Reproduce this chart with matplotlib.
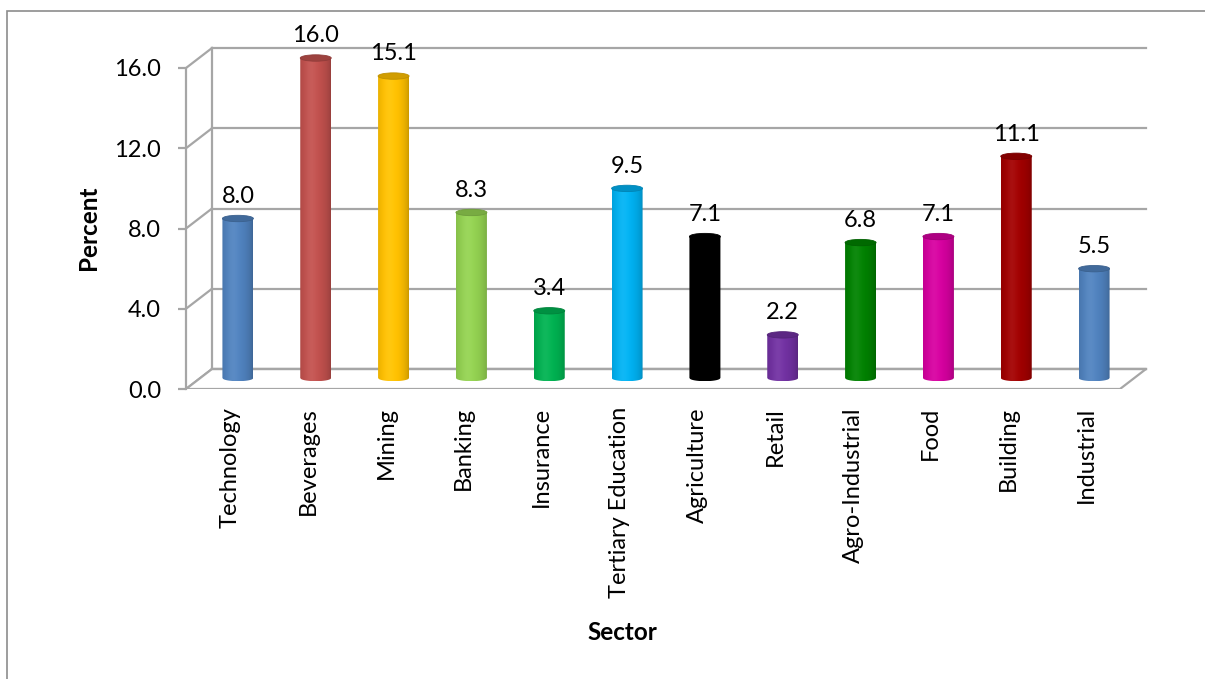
import numpy as np
import matplotlib
matplotlib.use("Agg")
import matplotlib.pyplot as plt
from matplotlib.patches import Polygon, Ellipse, Rectangle
from matplotlib.lines import Line2D
from matplotlib.colors import to_rgb

plt.rcParams['font.family'] = ['Lato', 'DejaVu Sans']

sectors = ["Technology", "Beverages", "Mining", "Banking", "Insurance",
           "Tertiary Education", "Agriculture", "Retail", "Agro-Industrial",
           "Food", "Building", "Industrial"]
percent = [8.0, 16.0, 15.1, 8.3, 3.4, 9.5, 7.1, 2.2, 6.8, 7.1, 11.1, 5.5]
colors = ["#4F81BD", "#C0504D", "#FFC000", "#92D050", "#00B050", "#00B0F0",
          "#000000", "#7030A0", "#008000", "#D4009E", "#A00000", "#4F81BD"]
yticks = [0, 4, 8, 12, 16]

W, H = 1205, 679
fig = plt.figure(figsize=(W / 100, H / 100), dpi=100)

# pixel geometry of the front plane
px_left, px_right = 186, 1120
py0, py16 = 389, 68
ppu_x = (px_right - px_left) / 12.0
ppu_y = (py0 - py16) / 16.0
xmin, xmax = -0.5, 11.9
ymin, ymax = 0.0, 18.0
ax_left = px_left / W
ax_w = (xmax - xmin) * ppu_x / W
ax_bottom = (H - py0) / H
ax_h = (ymax - ymin) * ppu_y / H
ax = fig.add_axes([ax_left, ax_bottom, ax_w, ax_h])

# depth offsets (data units)
dx = 26 / ppu_x
dy = 20 / ppu_y
gray = "#A6A6A6"
lw = 1.6

# back wall gridlines and side-wall diagonals
for v in yticks:
    ax.add_line(Line2D([-0.5 + dx, 11.5 + dx], [v + dy, v + dy], color=gray, lw=lw, zorder=1))
    ax.add_line(Line2D([-0.5, -0.5 + dx], [v, v + dy], color=gray, lw=lw, zorder=1))
ax.add_line(Line2D([-0.5 + dx, -0.5 + dx], [dy, 16 + dy], color=gray, lw=lw, zorder=1))

# floor
floor = Polygon([(-0.5, 0), (11.5, 0), (11.5 + dx, dy), (-0.5 + dx, dy)],
                closed=True, facecolor="white", edgecolor=gray, lw=lw, zorder=2)
ax.add_patch(floor)
ax.add_line(Line2D([-0.5 + dx, 11.5 + dx], [dy, dy], color=gray, lw=lw, zorder=2.1))
ax.add_line(Line2D([-0.5, 11.5], [-0.12, -0.12], color=gray, lw=lw, zorder=2.1))

# cylinders
bw = 31 / ppu_x
eh = 3.2 / ppu_y
t = np.linspace(-1, 1, 80)
light = 0.78 + 0.24 * np.clip(np.cos(np.pi / 2 * (t + 0.15) / 1.15), 0, 1) ** 0.6
hl = 0.06 * np.exp(-((t + 0.3) / 0.35) ** 2)
for i, (v, c) in enumerate(zip(percent, colors)):
    base = np.array(to_rgb(c))
    img = base[None, :] * light[:, None]
    img = img + (1 - base[None, :]) * hl[:, None] * (base.sum() > 0)
    img = np.clip(img, 0, 1)[None, :, :]
    xc = i + dx / 2
    yb = dy / 2 + 0.05
    yt = v + dy / 2
    x0, x1 = xc - bw / 2, xc + bw / 2
    tt = np.linspace(-1, 1, 40)
    bottom = [(xc + tv * bw / 2, yb - eh * np.sqrt(1 - tv ** 2)) for tv in tt]
    verts = [(x0, yt)] + bottom + [(x1, yt)]
    clip = Polygon(verts, closed=True, transform=ax.transData)
    im = ax.imshow(img, extent=[x0, x1, yb - eh, yt], aspect='auto',
                   interpolation='bilinear', zorder=3)
    im.set_clip_path(clip)
    top = Ellipse((xc, yt), bw, 2 * eh, facecolor=base * 0.82,
                  edgecolor=base * 0.75, lw=0.6, zorder=4)
    ax.add_patch(top)
    ax.text(xc, yt + 1.1, f"{v:.1f}", ha='center', va='center',
            fontsize=17, color='black', zorder=5)

ax.set_xlim(xmin, xmax)
ax.set_ylim(ymin, ymax)
for s in ['top', 'right', 'bottom']:
    ax.spines[s].set_visible(False)
ax.spines['left'].set_bounds(0, 16)
ax.spines['left'].set_color(gray)
ax.spines['left'].set_linewidth(lw)
ax.spines['left'].set_zorder(2.2)
ax.set_yticks(yticks)
ax.set_yticklabels([f"{v:.1f}" for v in yticks], fontsize=17)
ax.tick_params(axis='y', direction='out', length=6, width=lw, color=gray, pad=12)
ax.set_xticks(np.arange(len(sectors)) + 0.07)
ax.set_xticklabels(sectors, rotation=90, fontsize=17, va='top', ha='center')
ax.tick_params(axis='x', length=0, pad=13)
ax.set_facecolor('none')

fig.text(88 / W, 1 - 228 / H, "Percent", rotation=90, ha='center', va='center',
         fontsize=17.5, fontweight='bold')
fig.text(622 / W, 1 - 632 / H, "Sector", ha='center', va='center',
         fontsize=17.5, fontweight='bold')

# outer frame
fig.add_artist(Rectangle((7 / W, -0.05), 1.2, 1 - 11 / H + 0.05, transform=fig.transFigure,
                         fill=False, edgecolor="#8C8C8C", lw=1.2))

fig.savefig("out.png", dpi=100)
